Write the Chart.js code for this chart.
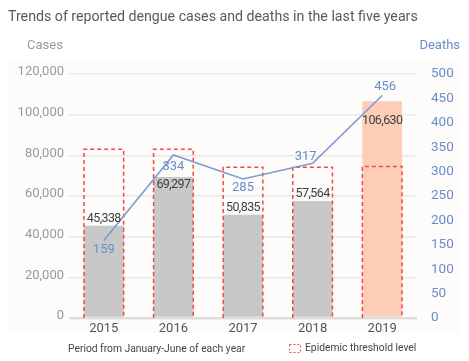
<!DOCTYPE html>
<html>
<head>
<meta charset="utf-8">
<script src="https://cdn.jsdelivr.net/npm/chart.js@4.4.1/dist/chart.umd.min.js"></script>
<style>
  html, body { margin: 0; padding: 0; background: #fff; }
  #wrap { width: 469px; height: 361px; position: relative; }
</style>
</head>
<body>
<div id="wrap"><canvas id="chart" width="469" height="361"></canvas></div>
<script>
const years = ["2015", "2016", "2017", "2018", "2019"];
const cases = [45338, 69297, 50835, 57564, 106630];
const deaths = [159, 334, 285, 317, 456];
const thresholds = [83000, 83000, 74200, 74200, 74500];
const caseTicks = [0, 20000, 40000, 60000, 80000, 100000, 120000];
const deathTicks = [0, 50, 100, 150, 200, 250, 300, 350, 400, 450, 500];

const barColors = ["#c8c8c8", "#c8c8c8", "#c8c8c8", "#c8c8c8", "#fdcdb8"];
// label nudges (px) so the text sits where the original had it
const caseLabelDy = [-7, 8, -7, -7, 20];
const deathLabelDy = [9, 12, 9, -7, -9];
const deathLabelDx = [0, 0, 0, -7, 3];

const FONT = "Roboto, 'Open Sans', sans-serif";

const decorPlugin = {
    id: "decor",
    beforeDraw(chart) {
        const ctx = chart.ctx;
        ctx.save();
        ctx.fillStyle = "#fdfcfb";
        ctx.fillRect(8, 60, 452, 273);
        ctx.restore();
    },
    afterDatasetsDraw(chart) {
        const ctx = chart.ctx;
        const y = chart.scales.y;
        const y1 = chart.scales.y1;
        const barMeta = chart.getDatasetMeta(0);
        const lineMeta = chart.getDatasetMeta(1);

        // epidemic threshold boxes
        ctx.save();
        ctx.strokeStyle = "#ee4a4a";
        ctx.lineWidth = 1.5;
        ctx.setLineDash([4, 3]);
        barMeta.data.forEach((bar, i) => {
            const left = bar.x - bar.width / 2;
            const right = bar.x + bar.width / 2;
            const top = y.getPixelForValue(thresholds[i]);
            const bottom = y.getPixelForValue(0);
            ctx.beginPath();
            ctx.moveTo(left, bottom);
            ctx.lineTo(left, top);
            ctx.lineTo(right, top);
            ctx.lineTo(right, bottom);
            ctx.stroke();
        });
        ctx.restore();

        // deaths line on top
        ctx.save();
        ctx.strokeStyle = "#7d9bd1";
        ctx.lineWidth = 1.6;
        ctx.beginPath();
        lineMeta.data.forEach((pt, i) => {
            if (i === 0) ctx.moveTo(pt.x, pt.y); else ctx.lineTo(pt.x, pt.y);
        });
        ctx.stroke();
        ctx.restore();

        // value labels
        ctx.save();
        ctx.textAlign = "center";
        ctx.textBaseline = "middle";
        ctx.font = "12.5px " + FONT;
        ctx.letterSpacing = "-0.6px";
        ctx.fillStyle = "#3f3f3f";
        barMeta.data.forEach((bar, i) => {
            ctx.fillText(cases[i].toLocaleString("en-US"), bar.x, bar.y + caseLabelDy[i]);
        });
        ctx.letterSpacing = "0px";
        ctx.font = "13px " + FONT;
        ctx.fillStyle = "#6a8cc8";
        lineMeta.data.forEach((pt, i) => {
            ctx.fillText(String(deaths[i]), pt.x + deathLabelDx[i], y1.getPixelForValue(deaths[i]) + deathLabelDy[i]);
        });
        ctx.restore();
    },
    afterDraw(chart) {
        const ctx = chart.ctx;
        ctx.save();
        ctx.textBaseline = "middle";
        ctx.textAlign = "left";
        ctx.font = "14.2px " + FONT;
        ctx.fillStyle = "#595959";
        ctx.fillText("Trends of reported dengue cases and deaths in the last five years", 8, 17);

        ctx.font = "13px " + FONT;
        ctx.fillStyle = "#9a9a9a";
        ctx.fillText("Cases", 27, 46);
        ctx.textAlign = "right";
        ctx.fillStyle = "#6a8cc8";
        ctx.fillText("Deaths", 460, 46);

        ctx.textAlign = "left";
        ctx.font = "10.3px " + FONT;
        ctx.fillStyle = "#444";
        ctx.fillText("Period from January-June of each year", 68, 349);
        ctx.fillText("Epidemic threshold level", 305, 348);

        ctx.strokeStyle = "#ee4a4a";
        ctx.lineWidth = 1;
        ctx.setLineDash([2, 2]);
        ctx.strokeRect(289.5, 344.5, 11, 8);
        ctx.restore();
    }
};

new Chart(document.getElementById("chart"), {
    type: "bar",
    data: {
        labels: years,
        datasets: [
            {
                label: "Cases",
                data: cases,
                backgroundColor: barColors,
                yAxisID: "y",
                barPercentage: 0.57,
                categoryPercentage: 1,
                order: 2
            },
            {
                type: "line",
                label: "Deaths",
                data: deaths,
                yAxisID: "y1",
                borderColor: "rgba(0,0,0,0)",
                pointRadius: 0,
                order: 1
            }
        ]
    },
    options: {
        responsive: false,
        animation: false,
        devicePixelRatio: 1,
        layout: { padding: { top: 74, left: 0, right: 0, bottom: 0 } },
        plugins: {
            legend: { display: false },
            tooltip: { enabled: false }
        },
        scales: {
            x: {
                grid: { display: false, drawTicks: false },
                border: { display: false },
                ticks: { color: "#555", font: { family: FONT, size: 13 }, padding: 3 },
                afterFit(scale) { scale.height = 43; }
            },
            y: {
                position: "left",
                min: 0,
                max: 120000,
                afterBuildTicks(scale) { scale.ticks = caseTicks.map(v => ({ value: v })); },
                grid: {
                    color: (c) => c.tick && c.tick.value === 0 ? "#dedede" : "#e8e8e8",
                    lineWidth: (c) => c.tick && c.tick.value === 0 ? 2.5 : 1.5,
                    drawTicks: false
                },
                border: { display: false },
                ticks: {
                    color: "#9a9a9a",
                    font: { family: FONT, size: 13 },
                    padding: 5,
                    labelOffset: -2,
                    callback: (v) => v.toLocaleString("en-US")
                },
                afterFit(scale) { scale.width = 69; }
            },
            y1: {
                position: "right",
                min: 0,
                max: 500,
                afterBuildTicks(scale) { scale.ticks = deathTicks.map(v => ({ value: v })); },
                grid: { display: false, drawTicks: false },
                border: { display: false },
                ticks: {
                    color: "#6a8cc8",
                    font: { family: FONT, size: 13.5 },
                    padding: 14
                },
                afterFit(scale) { scale.width = 52; }
            }
        }
    },
    plugins: [decorPlugin]
});
</script>
</body>
</html>
